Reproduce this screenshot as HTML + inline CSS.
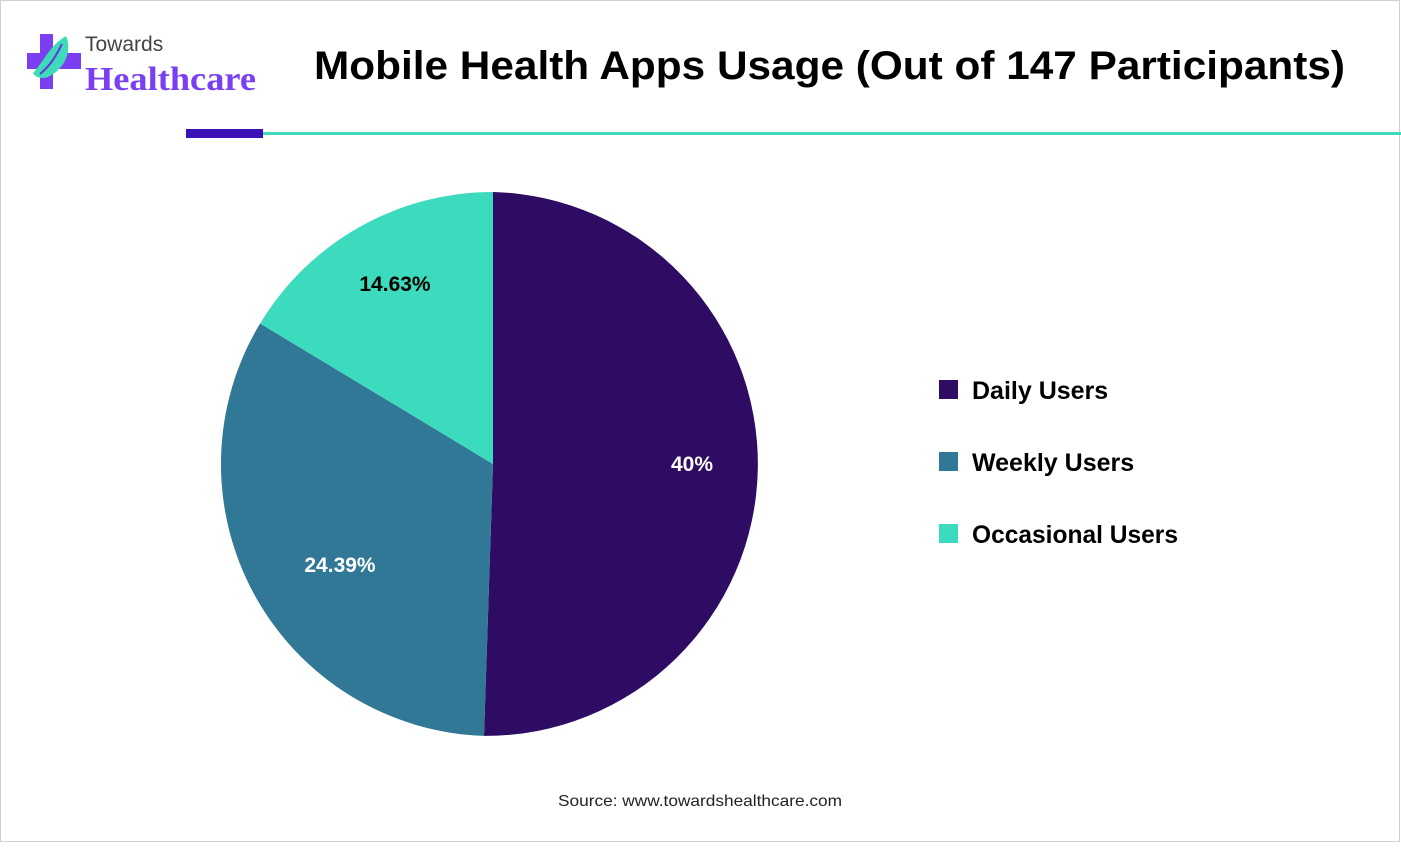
<!DOCTYPE html>
<html><head><meta charset="utf-8"><style>
html,body{margin:0;padding:0;background:#fff;}
</style></head><body>
<svg width="1401" height="843" viewBox="0 0 1401 843" xmlns="http://www.w3.org/2000/svg" font-family="Liberation Sans, sans-serif">
<rect x="0.5" y="0.5" width="1399" height="841" fill="#fff" stroke="#d0d0d0"/>
<!-- logo -->
<rect x="40" y="34" width="13" height="55" fill="#7b3ff2"/>
<rect x="27" y="53" width="54" height="16" fill="#7b3ff2"/>
<path d="M33 73 C45 60,50 45,66 36 C72 50,66 68,48 77 C42 79,36 78,33 73Z" fill="#3ddbb9"/>
<path d="M40 74 C50 66,56 56,62 44" stroke="#6a35d8" stroke-width="2" fill="none"/>
<text x="85" y="51" font-size="21" fill="#444">Towards</text>
<text x="85" y="90" font-size="34" font-weight="bold" font-family="Liberation Serif, serif" fill="#7b3ff2" textLength="171" lengthAdjust="spacingAndGlyphs">Healthcare</text>
<!-- title -->
<text x="314" y="79" font-size="40" font-weight="bold" fill="#000" textLength="1031" lengthAdjust="spacingAndGlyphs">Mobile Health Apps Usage (Out of 147 Participants)</text>
<rect x="186" y="129" width="77" height="9" fill="#3a12b8"/>
<rect x="263" y="132" width="1138" height="3" fill="#3ddbb9"/>
<!-- pie -->
<path d="M493 464 L493 192 A272 272 0 0 1 484 735.9 Z" fill="#2e0c63"/>
<path d="M493 464 L484 735.9 A272 272 0 0 1 260.1 323.5 Z" fill="#307896"/>
<path d="M493 464 L260.1 323.5 A272 272 0 0 1 493 192 Z" fill="#3ddbbd"/>
<text x="692" y="471" font-size="21" font-weight="bold" fill="#fff" text-anchor="middle">40%</text>
<text x="340" y="572" font-size="21" font-weight="bold" fill="#fff" text-anchor="middle">24.39%</text>
<text x="395" y="291" font-size="21" font-weight="bold" fill="#000" text-anchor="middle">14.63%</text>
<!-- legend -->
<rect x="939" y="380" width="19" height="19" fill="#2e0c63"/>
<text x="972" y="399" font-size="25" font-weight="bold" fill="#000">Daily Users</text>
<rect x="939" y="452" width="19" height="19" fill="#307896"/>
<text x="972" y="471" font-size="25" font-weight="bold" fill="#000">Weekly Users</text>
<rect x="939" y="524" width="19" height="19" fill="#3ddbbd"/>
<text x="972" y="543" font-size="25" font-weight="bold" fill="#000" textLength="206" lengthAdjust="spacingAndGlyphs">Occasional Users</text>
<text x="558" y="806" font-size="16" fill="#222" textLength="284" lengthAdjust="spacingAndGlyphs">Source: www.towardshealthcare.com</text>
</svg>
</body></html>
